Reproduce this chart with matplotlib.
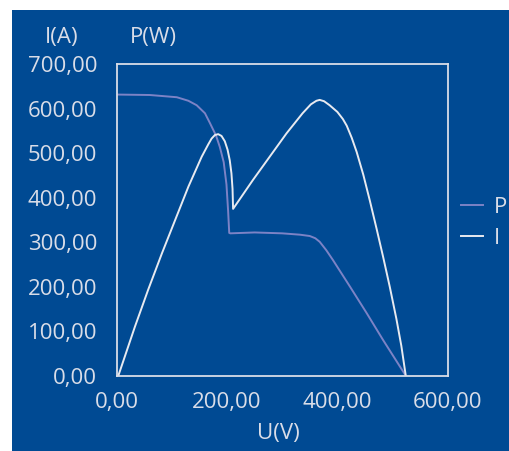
import matplotlib.pyplot as plt
from matplotlib.patches import Rectangle
from matplotlib.ticker import FuncFormatter

# values
u_p = [0, 60, 109, 130, 145, 160, 169, 180, 187, 194, 199, 202, 204, 206, 250, 300, 332, 350, 360, 368,
       380, 392, 423, 453, 483, 524]
p_w = [632, 631, 626, 618, 608, 590, 568, 540, 514, 480, 430, 370, 321, 320, 322, 320, 317, 314, 309, 301,
       282, 260, 200, 141, 80, 0]

u_i = [3, 33, 57, 82, 106, 130, 154, 166, 172, 178, 184, 190, 196, 201, 205, 208, 210, 211,
       247, 308, 337, 352, 362, 368, 376, 386, 400, 410, 417, 426, 435, 447, 459, 471, 483, 495, 507, 516, 524]
i_a = [0, 110, 193, 275, 350, 425, 492, 520, 533, 541, 543, 539, 527, 508, 484, 455, 420, 375,
       440, 545, 590, 610, 618, 620, 617, 608, 593, 577, 562, 535, 503, 452, 393, 331, 267, 200, 128, 67, 0]

bg = '#004a93'
fg = '#d9dde8'
fs = 16

plt.rcParams['font.family'] = ['Open Sans', 'DejaVu Sans']

fig = plt.figure(figsize=(5.1, 4.51), dpi=100)
fig.patch.set_facecolor('white')
fig.patches.append(Rectangle((12 / 510, 0), 498 / 510, 441 / 451, transform=fig.transFigure,
                             facecolor=bg, edgecolor='none', zorder=-1))

ax = fig.add_axes([0.2288, 0.167, 0.649, 0.6904])
ax.set_facecolor(bg)
ax.plot(u_p, p_w, color='#7c83c6', lw=1.4, label='P')
ax.plot(u_i, i_a, color='#e8eaf0', lw=1.4, label='I')

ax.set_xlim(0, 600)
ax.set_ylim(0, 700)
ax.set_xticks([0, 200, 400, 600])
ax.set_yticks(range(0, 701, 100))
fmt = FuncFormatter(lambda v, pos: f'{v:.2f}'.replace('.', ','))
ax.xaxis.set_major_formatter(fmt)
ax.yaxis.set_major_formatter(fmt)
ax.tick_params(length=0, colors=fg, labelsize=fs)
ax.tick_params(axis='y', pad=14)
ax.tick_params(axis='x', pad=12)
for s in ax.spines.values():
    s.set_color(fg)
    s.set_linewidth(1.3)

fig.text(62 / 510, 1 - 37 / 451, 'I(A)', color=fg, fontsize=fs, ha='center', va='center')
fig.text(153 / 510, 1 - 37 / 451, 'P(W)', color=fg, fontsize=fs, ha='center', va='center')
fig.text(278 / 510, 1 - 433 / 451, 'U(V)', color=fg, fontsize=fs, ha='center', va='center')

leg = ax.legend(loc='center left', bbox_to_anchor=(1.0, 0.49), frameon=False, fontsize=fs,
                handlelength=1.0, handletextpad=0.5, labelspacing=0.45, borderaxespad=0.2)
for t in leg.get_texts():
    t.set_color(fg)

fig.savefig('out.png', dpi=100, facecolor=fig.get_facecolor())
